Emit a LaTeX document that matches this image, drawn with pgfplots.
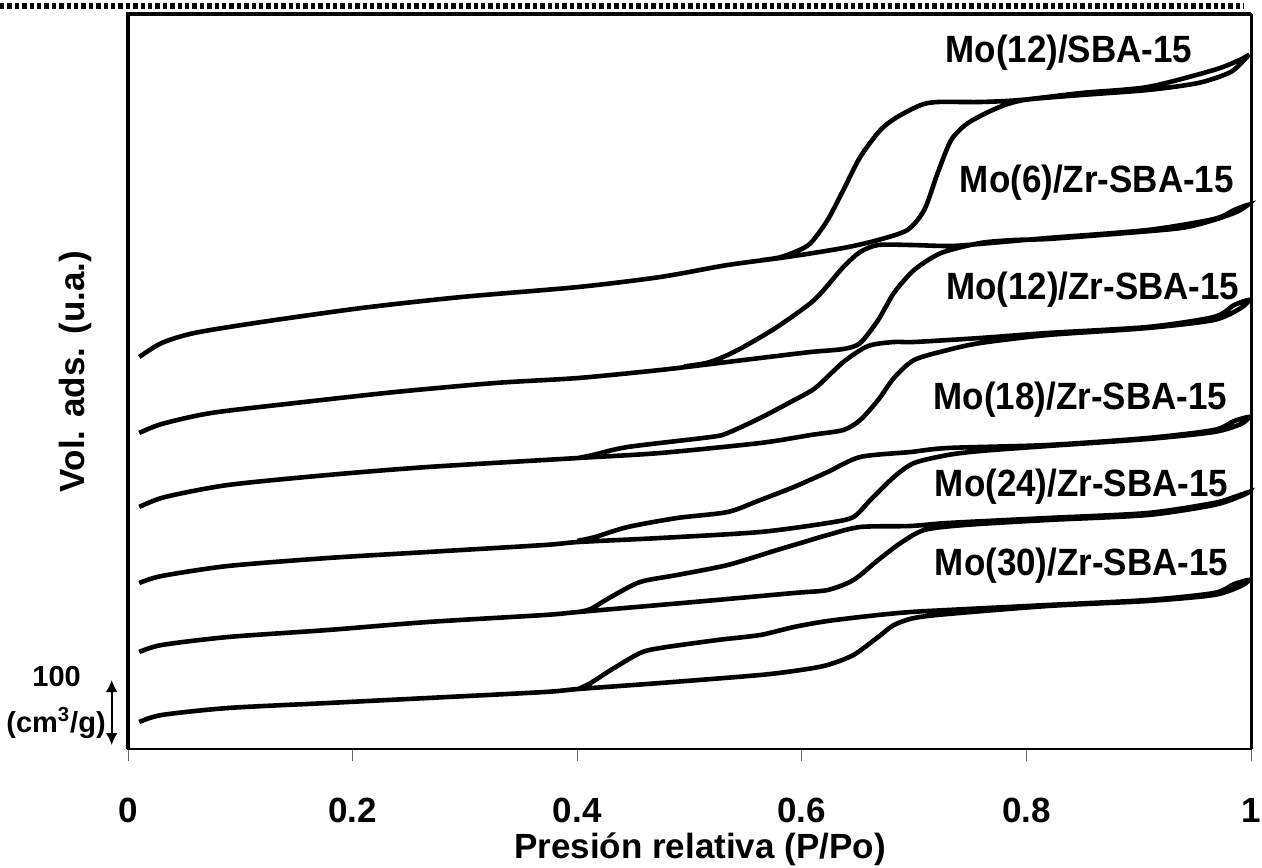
\documentclass[border=0pt]{standalone}
\usepackage{fontspec}
\setmainfont{Liberation Sans}
\usepackage{pgfplots}
\pgfplotsset{compat=1.18}
\usetikzlibrary{arrows.meta}
\tikzset{lbl/.style={anchor=base east, inner sep=0pt, xscale=0.92, font=\bfseries\fontsize{19}{22}\selectfont}}

\begin{document}
\begin{tikzpicture}[x=1pt,y=1pt]
\useasboundingbox (0,0) rectangle (631,433.5);
% dotted rule along the top of the page
\draw[line width=3pt, dash pattern=on 2.2pt off 1.5pt] (0,430.5) -- (622,430.5);
\begin{axis}[
  at={(64pt,59pt)}, anchor=south west,
  scale only axis, width=561.5pt, height=367.5pt,
  xmin=0, xmax=1, ymin=0, ymax=735,
  axis line style={line width=1pt},
  ytick=\empty,
  xtick={0,0.2,0.4,0.6,0.8,1},
  xtick pos=bottom,
  tick align=outside,
  major tick length=6pt,
  tick style={line width=0.5pt, black!60},
  /pgf/number format/assume math mode=true,
  xticklabel style={font=\bfseries\fontsize{17.5}{20}\selectfont, inner sep=0pt, anchor=north, yshift=-18.5pt},
  clip=false,
  cycle list={{black, solid, mark=none}},
  every axis plot/.append style={line width=2.3pt, smooth, tension=0.45},
]
% Mo(12)/SBA-15: adsorption, then desorption back to closure
\addplot coordinates {
 (0.010,392) (0.030,406) (0.059,416) (0.119,427) (0.208,441) (0.297,452)
 (0.401,462) (0.474,472) (0.534,484) (0.587,492) (0.637,501) (0.668,509)
 (0.694,519) (0.709,539) (0.721,576) (0.733,609) (0.748,626) (0.774,641)
 (0.798,649) (0.849,654) (0.908,659) (0.953,666) (0.982,677) (0.997,693)
 (0.990,689) (0.967,679) (0.908,662) (0.849,656) (0.795,649) (0.759,647)
 (0.721,647) (0.706,644) (0.685,632) (0.670,619) (0.652,592) (0.637,559)
 (0.623,529) (0.608,506) (0.596,498) (0.580,491.5) (0.565,489)
};
% Mo(6)/Zr-SBA-15
\addplot coordinates {
 (0.010,316) (0.030,325) (0.074,336) (0.149,346) (0.238,357) (0.327,366)
 (0.401,371) (0.474,379) (0.519,385) (0.563,391) (0.608,397) (0.637,400)
 (0.652,406) (0.668,429) (0.682,456) (0.700,479) (0.724,496) (0.759,506)
 (0.790,509) (0.819,510) (0.878,515) (0.938,521) (0.967,529) (0.987,537)
 (0.997,544)
 (0.985,539) (0.967,530) (0.908,519) (0.819,511) (0.768,506) (0.733,503)
 (0.697,504) (0.668,504) (0.652,497) (0.637,482) (0.611,449) (0.578,422)
 (0.548,402) (0.530,392) (0.515,386) (0.495,382.5)
};
% Mo(12)/Zr-SBA-15
\addplot coordinates {
 (0.010,242) (0.033,252) (0.089,264) (0.178,274) (0.267,282) (0.401,291)
 (0.474,296) (0.563,306) (0.608,314) (0.637,319) (0.652,329) (0.668,349)
 (0.682,371) (0.700,389) (0.730,399) (0.759,406) (0.819,414) (0.908,421)
 (0.967,429) (0.991,441) (0.998,449)
 (0.985,444) (0.967,432) (0.908,422) (0.819,416) (0.759,411) (0.700,407)
 (0.682,407) (0.659,403) (0.637,387) (0.612,361) (0.590,347) (0.563,331)
 (0.534,316) (0.519,312) (0.445,302) (0.414,294) (0.401,291)
};
% Mo(18)/Zr-SBA-15
\addplot coordinates {
 (0.010,166) (0.030,173) (0.089,183) (0.178,191) (0.267,197) (0.371,204)
 (0.401,207) (0.474,211) (0.563,217) (0.623,226) (0.646,232) (0.661,249)
 (0.682,272) (0.700,286) (0.730,294) (0.759,298) (0.819,303) (0.908,310)
 (0.967,317) (0.991,325) (0.998,332)
 (0.985,328) (0.967,319) (0.908,311) (0.819,304) (0.730,301) (0.697,297)
 (0.652,292) (0.623,277) (0.593,262) (0.563,249) (0.534,237) (0.489,231)
 (0.445,222) (0.416,212) (0.400,208)
};
% Mo(24)/Zr-SBA-15
\addplot coordinates {
 (0.010,97) (0.030,104) (0.089,112) (0.178,119) (0.267,127) (0.371,134)
 (0.401,137) (0.504,147) (0.593,156) (0.623,159) (0.646,169) (0.668,189)
 (0.688,206) (0.709,219) (0.745,224) (0.819,229) (0.908,234) (0.967,244)
 (0.991,253) (0.998,257)
 (0.985,252) (0.967,246) (0.908,236) (0.819,231) (0.730,226) (0.697,223)
 (0.652,222) (0.623,214) (0.599,206) (0.578,199) (0.534,184) (0.489,174)
 (0.456,167) (0.430,152) (0.412,140) (0.401,137)
};
% Mo(30)/Zr-SBA-15
\addplot coordinates {
 (0.010,27) (0.030,34) (0.089,41) (0.178,46) (0.267,51) (0.371,57)
 (0.401,60) (0.474,66) (0.563,74) (0.599,79) (0.623,84) (0.646,94)
 (0.668,112) (0.682,124) (0.700,131) (0.730,135) (0.819,143) (0.908,148)
 (0.967,154) (0.991,163) (0.998,169)
 (0.985,165) (0.967,156) (0.908,149) (0.819,144) (0.730,139) (0.697,137)
 (0.668,134) (0.623,128) (0.593,122) (0.563,114) (0.525,109) (0.474,101)
 (0.456,96) (0.430,79) (0.412,66) (0.401,60)
};
% heavier frame on left, top and right
\draw[line width=2pt] (rel axis cs:0,0) -- (rel axis cs:0,1) -- (rel axis cs:1,1);
\draw[line width=1.5pt] (rel axis cs:1,1) -- (rel axis cs:1,0);
% sample names
\node[lbl] at (axis cs:0.948,686) {Mo(12)/SBA-15};
\node[lbl] at (axis cs:0.985,556) {Mo(6)/Zr-SBA-15};
\node[lbl] at (axis cs:0.990,449) {Mo(12)/Zr-SBA-15};
\node[lbl] at (axis cs:0.979,339) {Mo(18)/Zr-SBA-15};
\node[lbl] at (axis cs:0.980,252) {Mo(24)/Zr-SBA-15};
\node[lbl] at (axis cs:0.980,174) {Mo(30)/Zr-SBA-15};
% axis titles
\node[rotate=90, font=\bfseries\fontsize{17.5}{20}\selectfont] at (rel axis cs:-0.0472,0.5136) {Vol. ads. (u.a.)};
\node[anchor=base, font=\bfseries\fontsize{17.5}{20}\selectfont] at (rel axis cs:0.5093,-0.1483) {Presión relativa (P/Po)};
% 100 cm3/g scale bar
\draw[line width=1pt, {Latex[length=6pt,width=6pt]}-{Latex[length=6pt,width=6pt]}] (axis cs:-0.0145,4) -- (axis cs:-0.0145,69);
\node[anchor=base, font=\bfseries\fontsize{14.5}{16}\selectfont] at (rel axis cs:-0.0635,0.0844) {100};
\node[anchor=base, font=\bfseries\fontsize{14.5}{16}\selectfont] at (rel axis cs:-0.0641,0.0231) {(cm\textsuperscript{3}/g)};
\end{axis}
\end{tikzpicture}
\end{document}
